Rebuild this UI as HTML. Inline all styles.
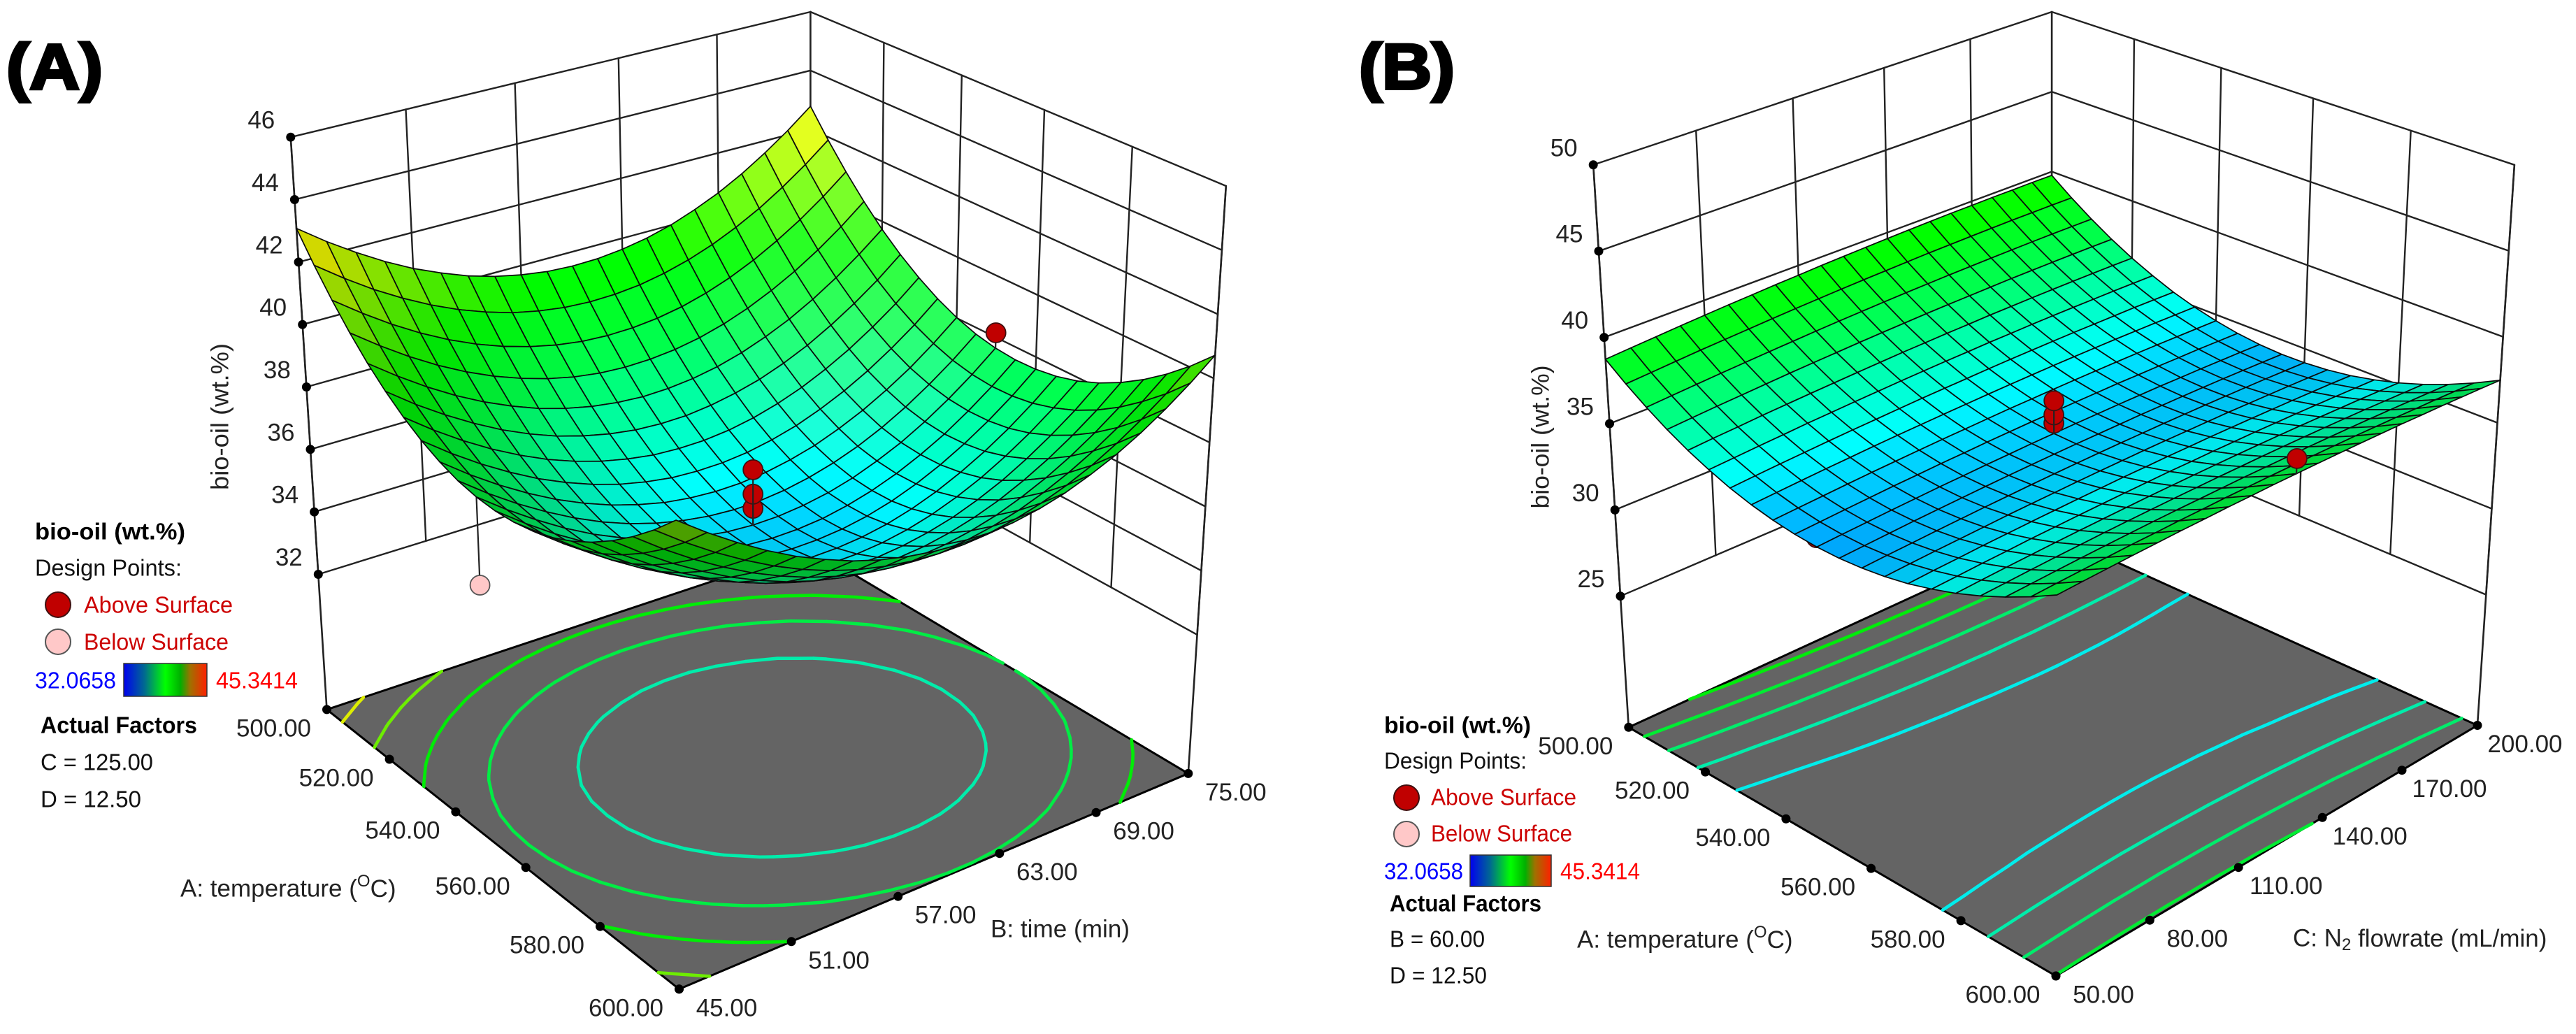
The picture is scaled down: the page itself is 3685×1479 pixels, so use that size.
<!DOCTYPE html>
<html lang="en">
<head>
<meta charset="utf-8">
<title>Bio-oil response surfaces</title>
<style>
html,body{margin:0;padding:0;background:#fff;}
svg{display:block;font-family:"Liberation Sans",Arial,sans-serif;}
.lg{font-size:33px;fill:#111;dominant-baseline:central;}
.lb{font-size:33px;font-weight:bold;fill:#000;dominant-baseline:central;}
.tick{font-size:35px;fill:#222;text-anchor:middle;dominant-baseline:central;}
.title{font-size:35px;fill:#222;dominant-baseline:central;}
.panel{font-size:92px;font-weight:bold;fill:#000;stroke:#000;stroke-width:4px;dominant-baseline:central;}
</style>
</head>
<body>
<svg id="chart" xmlns="http://www.w3.org/2000/svg" width="3685" height="1479" viewBox="0 0 3685 1479">
<defs>
<linearGradient id="barGrad" x1="0" x2="1" y1="0" y2="0">
<stop offset="0" stop-color="#0000f0"/><stop offset="0.25" stop-color="#006a90"/><stop offset="0.5" stop-color="#00ff00"/><stop offset="0.68" stop-color="#00b000"/><stop offset="0.8" stop-color="#a07000"/><stop offset="1" stop-color="#ff2000"/>
</linearGradient>
</defs>
<rect width="3685" height="1479" fill="#fff"/>
<text class="panel" x="9" y="96" textLength="138" lengthAdjust="spacingAndGlyphs">(A)</text>
<text class="panel" x="1944" y="96" textLength="137" lengthAdjust="spacingAndGlyphs">(B)</text>
<g id="panelA"></g>
<g id="panelB"></g>

<g>
<text class="lb" x="50" y="760" textLength="215" lengthAdjust="spacingAndGlyphs">bio-oil (wt.%)</text>
<text class="lg" x="50" y="812" textLength="210" lengthAdjust="spacingAndGlyphs">Design Points:</text>
<circle cx="83" cy="865" r="18" fill="#c00000" stroke="#401010" stroke-width="2"/>
<text class="lg" style="fill:#cc0000" x="120" y="865" textLength="213" lengthAdjust="spacingAndGlyphs">Above Surface</text>
<circle cx="83" cy="918" r="18" fill="#ffc8c8" stroke="#555" stroke-width="2"/>
<text class="lg" style="fill:#cc0000" x="120" y="918" textLength="207" lengthAdjust="spacingAndGlyphs">Below Surface</text>
<text class="lg" style="fill:#0000ff" x="50" y="973" textLength="116" lengthAdjust="spacingAndGlyphs">32.0658</text>
<rect x="177" y="949" width="119" height="47" fill="url(#barGrad)" stroke="#333" stroke-width="1.5"/>
<text class="lg" style="fill:#ff0000" x="309" y="973" textLength="117" lengthAdjust="spacingAndGlyphs">45.3414</text>
<text class="lb" x="58" y="1037" textLength="224" lengthAdjust="spacingAndGlyphs">Actual Factors</text>
<text class="lg" x="58" y="1090" textLength="161" lengthAdjust="spacingAndGlyphs">C = 125.00</text>
<text class="lg" x="58" y="1143" textLength="144" lengthAdjust="spacingAndGlyphs">D = 12.50</text>
</g>

<g>
<text class="lb" x="1980" y="1037" textLength="210" lengthAdjust="spacingAndGlyphs">bio-oil (wt.%)</text>
<text class="lg" x="1980" y="1088" textLength="204" lengthAdjust="spacingAndGlyphs">Design Points:</text>
<circle cx="2012" cy="1141" r="18" fill="#c00000" stroke="#401010" stroke-width="2"/>
<text class="lg" style="fill:#cc0000" x="2047" y="1140" textLength="208" lengthAdjust="spacingAndGlyphs">Above Surface</text>
<circle cx="2012" cy="1193" r="18" fill="#ffc8c8" stroke="#555" stroke-width="2"/>
<text class="lg" style="fill:#cc0000" x="2047" y="1192" textLength="202" lengthAdjust="spacingAndGlyphs">Below Surface</text>
<text class="lg" style="fill:#0000ff" x="1980" y="1246" textLength="113" lengthAdjust="spacingAndGlyphs">32.0658</text>
<rect x="2103" y="1223" width="116" height="45" fill="url(#barGrad)" stroke="#333" stroke-width="1.5"/>
<text class="lg" style="fill:#ff0000" x="2232" y="1246" textLength="114" lengthAdjust="spacingAndGlyphs">45.3414</text>
<text class="lb" x="1988" y="1292" textLength="217" lengthAdjust="spacingAndGlyphs">Actual Factors</text>
<text class="lg" x="1988" y="1343" textLength="136" lengthAdjust="spacingAndGlyphs">B = 60.00</text>
<text class="lg" x="1988" y="1395" textLength="139" lengthAdjust="spacingAndGlyphs">D = 12.50</text>
</g>

<text class="title" transform="translate(315,596) rotate(-90)" text-anchor="middle" textLength="210" lengthAdjust="spacingAndGlyphs">bio-oil (wt.%)</text>
<text class="title" x="258" y="1271">A: temperature (<tspan font-size="24" dy="-11">O</tspan><tspan dy="11">C)</tspan></text>
<text class="title" x="1417" y="1329" textLength="199" lengthAdjust="spacingAndGlyphs">B: time (min)</text>
<text class="title" transform="translate(2204,625) rotate(-90)" text-anchor="middle" textLength="205" lengthAdjust="spacingAndGlyphs">bio-oil (wt.%)</text>
<text class="title" x="2256" y="1344">A: temperature (<tspan font-size="24" dy="-11">O</tspan><tspan dy="11">C)</tspan></text>
<text class="title" x="3280" y="1342">C: N<tspan font-size="24" dy="9">2</tspan><tspan dy="-9"> flowrate (mL/min)</tspan></text>
</svg>
<script>
// ---------- chart data ----------
const zTicksA = [32,34,36,38,40,42,44,46];
const zTicksB = [25,30,35,40,45,50];
const temperatureTicks = [500,520,540,560,580,600];
const timeTicks = [45,51,57,63,69,75];
const flowTicks = [50,80,110,140,170,200];
const contourLevelsA = [36,37.6,39.1,40.7,42.2];
const contourLevelsB = [35,36,37,38,39];
// design points: coded factor levels (-1..1) and bio-oil response
const designCodedXA = [0,0,0,0,0];
const designCodedYA = [1,0,0,0,-1];
const designValueA  = [38.15,35.03,35.48,36.25,35.45];
const designAboveA  = [1,1,1,1,0];
const designBehindA = [0,0,0,0,1];
const designCodedXB = [0,0,0,0,1];
const designCodedYB = [-1,0,0,0,0];
const designValueB  = [34.5,35.0,35.48,36.3,38.9];
const designAboveB  = [1,1,1,1,1];
const designBehindB = [1,0,0,0,0];
// response surface: rows = temperature 500..600, columns = time 45..75
const gridA = [
[43.08,42.42,41.83,41.30,40.84,40.46,40.13,39.88,39.70,39.58,39.53,39.55,39.64,39.79,40.01,40.31,40.66,41.09,41.59,42.15,42.78],
[42.22,41.56,40.96,40.44,39.98,39.59,39.27,39.01,38.83,38.71,38.66,38.68,38.76,38.92,39.14,39.43,39.79,40.21,40.71,41.27,41.90],
[41.44,40.78,40.18,39.65,39.19,38.80,38.48,38.23,38.04,37.92,37.87,37.89,37.97,38.12,38.34,38.63,38.99,39.42,39.91,40.47,41.10],
[40.74,40.08,39.48,38.95,38.49,38.10,37.78,37.52,37.33,37.21,37.16,37.18,37.26,37.41,37.63,37.92,38.28,38.70,39.19,39.75,40.38],
[40.12,39.46,38.86,38.33,37.87,37.48,37.15,36.90,36.71,36.59,36.53,36.55,36.63,36.78,37.00,37.29,37.64,38.07,38.56,39.12,39.74],
[39.59,38.92,38.33,37.80,37.33,36.94,36.61,36.36,36.17,36.04,35.99,36.00,36.09,36.24,36.45,36.74,37.09,37.52,38.01,38.56,39.19],
[39.14,38.47,37.87,37.34,36.88,36.48,36.16,35.90,35.71,35.58,35.53,35.54,35.62,35.77,35.99,36.27,36.63,37.05,37.54,38.09,38.72],
[38.77,38.10,37.50,36.97,36.50,36.11,35.78,35.52,35.33,35.20,35.15,35.16,35.24,35.39,35.60,35.89,36.24,36.66,37.15,37.70,38.33],
[38.48,37.81,37.21,36.68,36.21,35.82,35.49,35.23,35.03,34.91,34.85,34.86,34.94,35.09,35.30,35.59,35.94,36.36,36.84,37.40,38.02],
[38.27,37.60,37.00,36.47,36.00,35.60,35.27,35.01,34.82,34.69,34.63,34.64,34.72,34.87,35.08,35.36,35.71,36.13,36.62,37.17,37.79],
[38.15,37.48,36.88,36.34,35.87,35.48,35.14,34.88,34.69,34.56,34.50,34.51,34.59,34.73,34.94,35.23,35.57,35.99,36.48,37.03,37.65],
[38.11,37.44,36.83,36.30,35.83,35.43,35.10,34.83,34.64,34.51,34.45,34.46,34.53,34.68,34.89,35.17,35.52,35.93,36.42,36.97,37.59],
[38.15,37.48,36.87,36.33,35.86,35.46,35.13,34.87,34.67,34.54,34.48,34.49,34.56,34.70,34.91,35.19,35.54,35.96,36.44,36.99,37.61],
[38.27,37.60,36.99,36.45,35.98,35.58,35.25,34.98,34.78,34.65,34.59,34.60,34.67,34.81,35.02,35.30,35.65,36.06,36.54,37.09,37.71],
[38.47,37.80,37.19,36.65,36.18,35.78,35.44,35.18,34.98,34.85,34.78,34.79,34.86,35.00,35.21,35.49,35.83,36.25,36.73,37.28,37.89],
[38.76,38.08,37.48,36.94,36.46,36.06,35.72,35.46,35.26,35.12,35.06,35.06,35.14,35.28,35.48,35.76,36.10,36.52,37.00,37.54,38.16],
[39.13,38.45,37.84,37.30,36.83,36.42,36.09,35.82,35.62,35.48,35.42,35.42,35.49,35.63,35.84,36.11,36.46,36.87,37.35,37.89,38.51],
[39.58,38.90,38.29,37.75,37.27,36.87,36.53,36.26,36.06,35.92,35.86,35.86,35.93,36.07,36.27,36.55,36.89,37.30,37.78,38.32,38.94],
[40.11,39.43,38.82,38.28,37.80,37.40,37.06,36.79,36.58,36.45,36.38,36.38,36.45,36.59,36.79,37.07,37.41,37.82,38.29,38.84,39.45],
[40.72,40.04,39.43,38.89,38.41,38.00,37.66,37.39,37.19,37.05,36.98,36.98,37.05,37.19,37.39,37.66,38.00,38.41,38.89,39.43,40.04],
[41.42,40.74,40.13,39.58,39.10,38.70,38.35,38.08,37.88,37.74,37.67,37.67,37.74,37.87,38.07,38.35,38.68,39.09,39.57,40.11,40.72]
];
// rows = temperature 500..600, columns = N2 flowrate 50..200
const gridB = [
[38.73,38.84,38.94,39.04,39.13,39.22,39.29,39.37,39.43,39.50,39.55,39.60,39.64,39.68,39.71,39.74,39.75,39.77,39.77,39.78,39.77],
[37.86,37.96,38.06,38.16,38.24,38.32,38.40,38.47,38.53,38.59,38.64,38.68,38.72,38.76,38.78,38.80,38.82,38.83,38.83,38.83,38.82],
[37.08,37.18,37.27,37.36,37.44,37.52,37.59,37.66,37.72,37.77,37.82,37.86,37.89,37.92,37.94,37.96,37.97,37.98,37.98,37.97,37.96],
[36.38,36.48,36.57,36.65,36.73,36.81,36.87,36.93,36.99,37.04,37.08,37.12,37.15,37.17,37.19,37.21,37.21,37.21,37.21,37.20,37.18],
[35.77,35.87,35.95,36.04,36.11,36.18,36.24,36.30,36.35,36.40,36.43,36.47,36.49,36.52,36.53,36.54,36.54,36.54,36.53,36.52,36.49],
[35.26,35.34,35.43,35.50,35.58,35.64,35.70,35.75,35.80,35.84,35.88,35.90,35.93,35.94,35.96,35.96,35.96,35.95,35.94,35.92,35.90],
[34.82,34.91,34.99,35.06,35.13,35.19,35.24,35.29,35.34,35.37,35.40,35.43,35.45,35.46,35.47,35.47,35.46,35.45,35.44,35.41,35.38],
[34.48,34.56,34.64,34.71,34.77,34.83,34.88,34.92,34.96,34.99,35.02,35.04,35.06,35.07,35.07,35.07,35.06,35.04,35.02,34.99,34.96],
[34.23,34.30,34.37,34.44,34.50,34.55,34.60,34.64,34.67,34.70,34.73,34.74,34.75,34.76,34.76,34.75,34.74,34.72,34.69,34.66,34.63],
[34.06,34.13,34.20,34.26,34.32,34.36,34.41,34.44,34.48,34.50,34.52,34.53,34.54,34.54,34.54,34.52,34.51,34.48,34.46,34.42,34.38],
[33.98,34.05,34.11,34.17,34.22,34.27,34.30,34.34,34.36,34.39,34.40,34.41,34.41,34.41,34.40,34.39,34.36,34.34,34.30,34.27,34.22],
[33.99,34.05,34.11,34.17,34.21,34.25,34.29,34.32,34.34,34.36,34.37,34.37,34.37,34.37,34.35,34.33,34.31,34.28,34.24,34.20,34.15],
[34.09,34.15,34.20,34.25,34.29,34.33,34.36,34.39,34.41,34.42,34.43,34.43,34.42,34.41,34.39,34.37,34.34,34.31,34.27,34.22,34.17],
[34.27,34.33,34.38,34.42,34.46,34.50,34.52,34.54,34.56,34.57,34.57,34.57,34.56,34.54,34.52,34.50,34.46,34.42,34.38,34.33,34.27],
[34.54,34.60,34.64,34.69,34.72,34.75,34.77,34.79,34.80,34.81,34.80,34.80,34.78,34.77,34.74,34.71,34.67,34.63,34.58,34.53,34.46],
[34.91,34.95,35.00,35.03,35.07,35.09,35.11,35.12,35.13,35.13,35.13,35.11,35.10,35.07,35.05,35.01,34.97,34.92,34.87,34.81,34.75],
[35.35,35.40,35.44,35.47,35.50,35.52,35.53,35.54,35.55,35.54,35.53,35.52,35.50,35.47,35.44,35.40,35.35,35.30,35.25,35.18,35.11],
[35.89,35.93,35.97,36.00,36.02,36.04,36.05,36.05,36.05,36.04,36.03,36.01,35.99,35.96,35.92,35.88,35.83,35.77,35.71,35.64,35.57],
[36.52,36.55,36.58,36.61,36.63,36.64,36.65,36.65,36.64,36.63,36.62,36.59,36.56,36.53,36.49,36.44,36.39,36.33,36.26,36.19,36.12],
[37.23,37.26,37.29,37.31,37.33,37.33,37.34,37.33,37.33,37.31,37.29,37.26,37.23,37.19,37.15,37.09,37.04,36.97,36.91,36.83,36.75],
[38.03,38.06,38.08,38.10,38.11,38.12,38.11,38.11,38.09,38.08,38.05,38.02,37.98,37.94,37.89,37.84,37.77,37.71,37.63,37.56,37.47]
];

// ---------- frame geometry ----------
const frameA = {zMin:27.67,zMax:46,
  floor:[[467.5,1014.9],[971.5,1414.8],[1699.8,1106.4],[1159.4,784.7]],
  top:[[415.8,196.2],[965.6,520.6],[1753.8,266],[1159.4,17]]};
const frameB = {zMin:17.4,zMax:50,
  floor:[[2329.8,1040.3],[2941,1396],[3544,1037.5],[2935,762]],
  top:[[2279.2,235.8],[2943.3,534.8],[3596.9,235.8],[2935.1,17]]};

const NS='http://www.w3.org/2000/svg';
function homography(q){
  const [p0,p1,p2,p3]=q;
  const dx1=p1[0]-p2[0],dx2=p3[0]-p2[0],sx=p0[0]-p1[0]+p2[0]-p3[0];
  const dy1=p1[1]-p2[1],dy2=p3[1]-p2[1],sy=p0[1]-p1[1]+p2[1]-p3[1];
  const den=dx1*dy2-dx2*dy1;
  const g=(sx*dy2-dx2*sy)/den,h=(dx1*sy-sx*dy1)/den;
  const a=p1[0]-p0[0]+g*p1[0],b=p3[0]-p0[0]+h*p3[0],c=p0[0];
  const d=p1[1]-p0[1]+g*p1[1],e=p3[1]-p0[1]+h*p3[1],f=p0[1];
  return (u,v)=>{const w=g*u+h*v+1;return [(a*u+b*v+c)/w,(d*u+e*v+f)/w];};
}
function rampColor(t){
  t=Math.max(0,Math.min(1,t));
  const st=[[0,0,0,255],[0.22,0,255,255],[0.42,0,255,70],[0.54,0,255,0],[0.78,255,255,0],[1,255,0,0]];
  for(let k=0;k<st.length-1;k++){ if(t<=st[k+1][0]){ const s=(t-st[k][0])/(st[k+1][0]-st[k][0]);
    return [0,1,2].map(c=>st[k][c+1]+(st[k+1][c+1]-st[k][c+1])*s); } }
  return [255,0,0];
}
const RANGE_MIN=32.0658,RANGE_MAX=45.3414;
function valueColor(z){return rampColor((z-RANGE_MIN)/(RANGE_MAX-RANGE_MIN));}
function rgb(c){return 'rgb('+c.map(x=>Math.round(Math.max(0,Math.min(255,x)))).join(',')+')';}

function drawPanel(root,prefix,frame,grid,zTicks,uTicks,vTicks,levels,ptX,ptY,ptZ,ptAbove,ptBehind){
  const F=homography(frame.floor),T=homography(frame.top);
  const zT=z=>(z-frame.zMin)/(frame.zMax-frame.zMin);
  const P=(u,v,z)=>{const a=F(u,v),b=T(u,v),t=zT(z);return [a[0]+(b[0]-a[0])*t,a[1]+(b[1]-a[1])*t];};
  const uOf=x=>(x-uTicks[0])/(uTicks[uTicks.length-1]-uTicks[0]);
  const vOf=x=>(x-vTicks[0])/(vTicks[vTicks.length-1]-vTicks[0]);
  const zLow=zTicks[0],zHigh=zTicks[zTicks.length-1];
  const line=(a,b,w,col,parent)=>{
    const el=document.createElementNS(NS,'line');
    el.setAttribute('x1',a[0].toFixed(1));el.setAttribute('y1',a[1].toFixed(1));
    el.setAttribute('x2',b[0].toFixed(1));el.setAttribute('y2',b[1].toFixed(1));
    el.setAttribute('stroke',col);el.setAttribute('stroke-width',w);el.setAttribute('stroke-linecap','round');
    (parent||root).appendChild(el);return el;
  };
  const dot=(p,r,fill,stroke)=>{
    const el=document.createElementNS(NS,'circle');
    el.setAttribute('cx',p[0].toFixed(1));el.setAttribute('cy',p[1].toFixed(1));el.setAttribute('r',r);
    el.setAttribute('fill',fill);if(stroke){el.setAttribute('stroke',stroke);el.setAttribute('stroke-width',1.8);}
    root.appendChild(el);return el;
  };
  const label=(p,s)=>{
    const el=document.createElementNS(NS,'text');
    el.setAttribute('class','tick');el.setAttribute('x',p[0].toFixed(1));el.setAttribute('y',p[1].toFixed(1));
    el.textContent=s;root.appendChild(el);return el;
  };
  // back walls
  vTicks.forEach(x=>{const v=vOf(x);
    const el=line(P(0,v,zLow),P(0,v,zHigh),2.4,'#222');
    
    
  });
  uTicks.forEach(x=>{const u=uOf(x);
    const el=line(P(u,1,zLow),P(u,1,zHigh),2.4,'#222');
    
    
  });
  zTicks.forEach(z=>{
    const e1=line(P(0,0,z),P(0,1,z),2.4,'#222');
    
    
    const e2=line(P(0,1,z),P(1,1,z),2.4,'#222');
    
    
  });
  const ax1=line(P(0,0,frame.zMin),P(0,0,zHigh),2.6,'#222');
  
  
  const ax2=line(P(1,1,frame.zMin),P(1,1,zHigh),2.6,'#222');
  
  
  // floor
  const fl=document.createElementNS(NS,'polygon');
  fl.setAttribute('points',frame.floor.map(p=>p.join(',')).join(' '));
  fl.setAttribute('fill','#646464');fl.setAttribute('stroke','#000');fl.setAttribute('stroke-width',3);
  
  
  root.appendChild(fl);
  // contours (marching squares on the response grid)
  const n=grid.length-1,m=grid[0].length-1;
  levels.forEach(L=>{
    const col=rgb(valueColor(L).map(c=>c*0.93));
    for(let i=0;i<n;i++)for(let j=0;j<m;j++){
      const c=[[i,j],[i+1,j],[i+1,j+1],[i,j+1]],pts=[];
      for(let k=0;k<4;k++){const A=c[k],B=c[(k+1)%4],za=grid[A[0]][A[1]],zb=grid[B[0]][B[1]];
        if((za<L)!==(zb<L)){const s=(L-za)/(zb-za);
          pts.push(F((A[0]+(B[0]-A[0])*s)/n,(A[1]+(B[1]-A[1])*s)/m));}}
      for(let k=0;k+1<pts.length;k+=2){
        const seg=line(pts[k],pts[k+1],4.6,col);
        
        
      }
    }
  });
  // floor ticks
  uTicks.forEach(x=>{const u=uOf(x),p=F(u,0);
    const d=dot(p,6.5,'#000');
    
    
    const t=label([p[0]-76,p[1]+27],x.toFixed(2));
    
    
  });
  vTicks.forEach(x=>{const v=vOf(x),p=F(1,v);
    const d=dot(p,6.5,'#000');
    
    
    const t=label([p[0]+68,p[1]+27],x.toFixed(2));
    
    
  });
  // z ticks
  zTicks.forEach(z=>{const p=P(0,0,z);
    const d=dot(p,6.5,'#000');
    
    
    const t=label([p[0]-42,p[1]-24],String(z));
    
    
  });
  const pointAt=(k)=>({u:(ptX[k]+1)/2,v:(ptY[k]+1)/2});
  const surfAt=(u,v)=>{const i=Math.min(n,Math.round(u*n)),j=Math.min(m,Math.round(v*m));return grid[i][j];};
  const drawPoint=(k)=>{
    const q=pointAt(k),s=surfAt(q.u,q.v),z=ptZ[k],above=ptAbove[k];
    const st=line(P(q.u,q.v,s),P(q.u,q.v,z),2.2,'#222');
    
    
    const d=dot(P(q.u,q.v,z),14,above?'#c00000':'#ffc8c8',above?'#401010':'#555');
    
    
  };
  // points occluded by the surface
  ptZ.forEach((z,k)=>{ if(ptBehind[k])drawPoint(k); });
  // surface cells, far to near
  const L=[0.4,-0.5,0.75];
  for(let i=0;i<n;i++)for(let j=m-1;j>=0;j--){
    const z00=grid[i][j],z10=grid[i+1][j],z11=grid[i+1][j+1],z01=grid[i][j+1];
    const r=frame.zMax-frame.zMin;
    const zu=((z10+z11-z00-z01)/2)*n/r, zv=((z01+z11-z00-z10)/2)*m/r;
    const len=Math.sqrt(zu*zu+zv*zv+1);
    const nl=(-zu*L[0]-zv*L[1]+L[2])/len;
    const shade=Math.min(1,0.6+0.5*nl);
    const base=valueColor((z00+z10+z11+z01)/4);
    const spec=Math.max(0,nl-0.9)*2.2;
    const col=base.map(c=>c*shade+(255-c*shade)*spec);
    const q=document.createElementNS(NS,'polygon');
    const corners=[P(i/n,j/m,z00),P((i+1)/n,j/m,z10),P((i+1)/n,(j+1)/m,z11),P(i/n,(j+1)/m,z01)];
    q.setAttribute('points',corners.map(p=>p[0].toFixed(1)+','+p[1].toFixed(1)).join(' '));
    q.setAttribute('fill',rgb(col));
    q.setAttribute('stroke','#0a0a0a');
    q.setAttribute('stroke-width','1.7');
    q.setAttribute('stroke-linejoin','round');
    
    
    root.appendChild(q);
  }
  // points in front of the surface
  ptZ.forEach((z,k)=>{ if(!ptBehind[k])drawPoint(k); });
}
drawPanel(document.getElementById('panelA'),'panel-a',frameA,gridA,zTicksA,temperatureTicks,timeTicks,contourLevelsA,designCodedXA,designCodedYA,designValueA,designAboveA,designBehindA);
drawPanel(document.getElementById('panelB'),'panel-b',frameB,gridB,zTicksB,temperatureTicks,flowTicks,contourLevelsB,designCodedXB,designCodedYB,designValueB,designAboveB,designBehindB);
</script>
</body>
</html>
